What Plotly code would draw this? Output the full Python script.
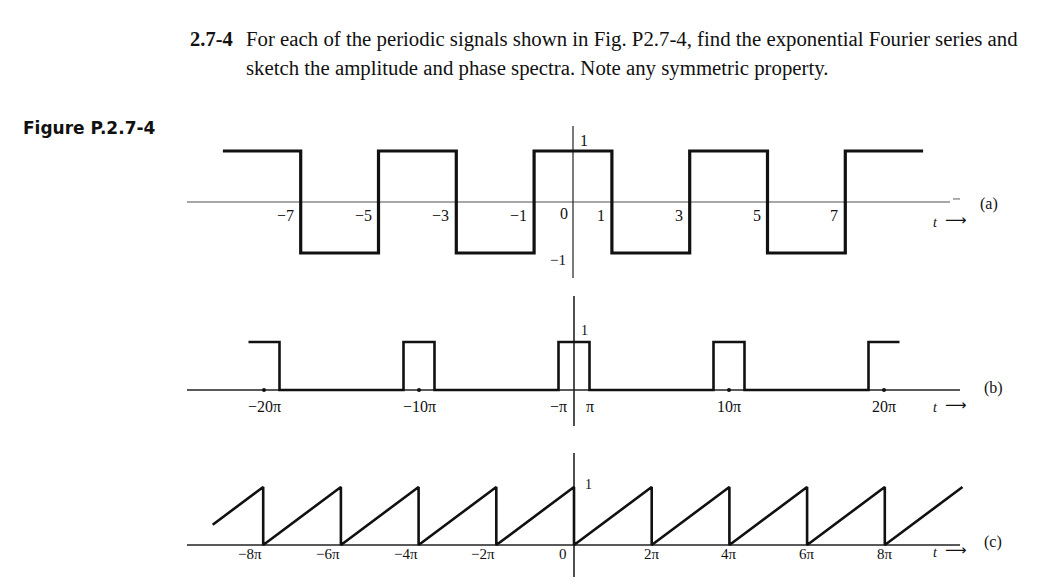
import plotly.graph_objects as go

W, H = 1049, 587
SERIF = "Liberation Serif, DejaVu Serif, serif"
SANS_BOLD = "DejaVu Sans, Liberation Sans, sans-serif"

# ---------------- data ----------------
# (a) square wave
a_t = [-9, -7, -5, -3, -1, 1, 3, 5, 7, 9]
a_v = [1, -1, 1, -1, 1, -1, 1, -1, 1, 1]
a_ticks = [-7, -5, -3, -1, 1, 3, 5, 7]
a_tick_labels = ["−7", "−5", "−3", "−1", "1", "3", "5", "7"]

# (b) pulse train (t in units of pi)
b_t = [-21, -19, -11, -9, -1, 1, 9, 11, 19, 21]
b_v = [1, 0, 1, 0, 1, 0, 1, 0, 1, 1]
b_ticks = [-20, -10, -1, 1, 10, 20]
b_tick_labels = ["−20π", "−10π", "−π", "π", "10π", "20π"]
b_dot_ticks = [-20, -10, 10, 20]

# (c) sawtooth (t in units of pi)
c_t = [-9.3, -8, -8, -6, -6, -4, -4, -2, -2, 0, 0, 2, 2, 4, 4, 6, 6, 8, 8, 10]
c_v = [0.35, 1, 0, 1, 0, 1, 0, 1, 0, 1, 0, 1, 0, 1, 0, 1, 0, 1, 0, 1]
c_ticks = [-8, -6, -4, -2, 0, 2, 4, 6, 8]
c_tick_labels = ["−8π", "−6π", "−4π", "−2π", "0", "2π", "4π", "6π", "8π"]


# ---------------- geometry helpers ----------------
def xrange_for(p0, s):
    return [-p0 / s, (W - p0) / s]


def yrange_for(q0, r):
    return [-(H - q0) / r, q0 / r]


def px(x):
    return x / W


def py(y):
    return 1 - y / H


fig = go.Figure()

fig.add_trace(go.Scatter(x=a_t, y=a_v, mode="lines", line=dict(color="#111", width=3.2, shape="hv"),
                         xaxis="x", yaxis="y", hoverinfo="skip"))
fig.add_trace(go.Scatter(x=b_t, y=b_v, mode="lines", line=dict(color="#111", width=2.6, shape="hv"),
                         xaxis="x2", yaxis="y2", hoverinfo="skip"))
fig.add_trace(go.Scatter(x=b_dot_ticks, y=[0] * len(b_dot_ticks), mode="markers",
                         marker=dict(symbol="circle", size=4, color="#111"),
                         xaxis="x2", yaxis="y2", hoverinfo="skip"))
fig.add_trace(go.Scatter(x=c_t, y=c_v, mode="lines", line=dict(color="#111", width=2.6),
                         xaxis="x3", yaxis="y3", hoverinfo="skip"))

ax_common = dict(visible=False, fixedrange=True)
fig.update_layout(
    width=W, height=H, margin=dict(l=0, r=0, t=0, b=0),
    paper_bgcolor="white", plot_bgcolor="white", showlegend=False,
    xaxis=dict(domain=[0, 1], range=xrange_for(573, 38.9), anchor="y", **ax_common),
    yaxis=dict(domain=[0, 1], range=yrange_for(202, 51), anchor="x", **ax_common),
    xaxis2=dict(range=xrange_for(574, 15.5), anchor="y2", overlaying="x", **ax_common),
    yaxis2=dict(range=yrange_for(390, 48), anchor="x2", overlaying="y", **ax_common),
    xaxis3=dict(range=xrange_for(574, 38.85), anchor="y3", overlaying="x", **ax_common),
    yaxis3=dict(range=yrange_for(545, 58), anchor="x3", overlaying="y", **ax_common),
)

shapes = []
# horizontal axes
shapes.append(dict(type="line", xref="paper", yref="y", x0=px(187), x1=px(950), y0=0, y1=0,
                   line=dict(color="#8a8a8a", width=1.6), layer="below"))
shapes.append(dict(type="line", xref="paper", yref="y", x0=px(953), x1=px(960), y0=0.06, y1=0.06,
                   line=dict(color="#8a8a8a", width=1.4), layer="below"))
shapes.append(dict(type="line", xref="paper", yref="y2", x0=px(187), x1=px(960), y0=0, y1=0,
                   line=dict(color="#222", width=1.6), layer="below"))
shapes.append(dict(type="line", xref="paper", yref="y3", x0=px(187), x1=px(960), y0=0, y1=0,
                   line=dict(color="#222", width=1.6), layer="below"))
# vertical axes
shapes.append(dict(type="line", xref="x", yref="paper", x0=0, x1=0, y0=py(126), y1=py(278),
                   line=dict(color="#222", width=1.2), layer="below"))
shapes.append(dict(type="line", xref="x2", yref="paper", x0=0, x1=0, y0=py(296), y1=py(426),
                   line=dict(color="#222", width=1.6), layer="below"))
shapes.append(dict(type="line", xref="x3", yref="paper", x0=0, x1=0, y0=py(453), y1=py(577),
                   line=dict(color="#222", width=1.6), layer="below"))
fig.update_layout(shapes=shapes)

anns = []


def ann(text, x, y, xref="paper", yref="paper", size=16, xanchor="center", yanchor="middle",
        xshift=0, yshift=0, family=SERIF, color="#111"):
    anns.append(dict(text=text, x=x, y=y, xref=xref, yref=yref, showarrow=False,
                     xanchor=xanchor, yanchor=yanchor, xshift=xshift, yshift=yshift,
                     font=dict(family=family, size=size, color=color)))


def t_arrow(ycen):
    ann("<i>t</i>", px(935), py(ycen + 1), size=14)
    ann("⟶", px(956), py(ycen - 1), size=15, family="DejaVu Sans, sans-serif")


# header
ann("<b>2.7-4</b>", px(188), py(39), xanchor="left", size=20.5)
ann("For each of the periodic signals shown in Fig. P2.7-4, find the exponential Fourier series and",
    px(244), py(39), xanchor="left", size=20.8)
ann("sketch the amplitude and phase spectra. Note any symmetric property.",
    px(244), py(68), xanchor="left", size=20.8)
ann("<b>Figure P.2.7-4</b>", px(21), py(128), xanchor="left", size=17, family=SANS_BOLD)

# panel (a) labels
for t, lab in zip(a_ticks, a_tick_labels):
    ann(lab, t, 0, "x", "y", xanchor="right", xshift=-5, yshift=-13)
ann("0", 0, 0, "x", "y", xanchor="right", xshift=-3, yshift=-11)
ann("1", 0, 1, "x", "y", xanchor="left", xshift=5, yshift=11, size=16)
ann("−1", 0, -1, "x", "y", xanchor="right", xshift=-5, yshift=-7, size=15)
t_arrow(221)
ann("(a)", px(989), py(204), size=16)

# panel (b) labels
for t, lab in zip(b_ticks, b_tick_labels):
    ann(lab, t, 0, "x2", "y2", xanchor="center", yshift=-16)
ann("1", 0, 1, "x2", "y2", xanchor="left", xshift=5, yshift=12, size=14)
t_arrow(406)
ann("(b)", px(993), py(388), size=16)

# panel (c) labels
for t, lab in zip(c_ticks, c_tick_labels):
    if t < 0:
        ann(lab, t, 0, "x3", "y3", xanchor="right", xshift=1, yshift=-9, size=15)
    elif t == 0:
        ann(lab, t, 0, "x3", "y3", xanchor="right", xshift=-5, yshift=-9, size=15)
    else:
        ann(lab, t, 0, "x3", "y3", xanchor="center", yshift=-9, size=15)
ann("1", 0, 1, "x3", "y3", xanchor="left", xshift=9, yshift=3, size=14)
t_arrow(551)
ann("(c)", px(993), py(542), size=16)

fig.update_layout(annotations=anns)

fig.write_html("out.html", config={"displayModeBar": False, "staticPlot": True},
               post_script="document.body.style.margin='0';document.body.style.overflow='hidden';")
